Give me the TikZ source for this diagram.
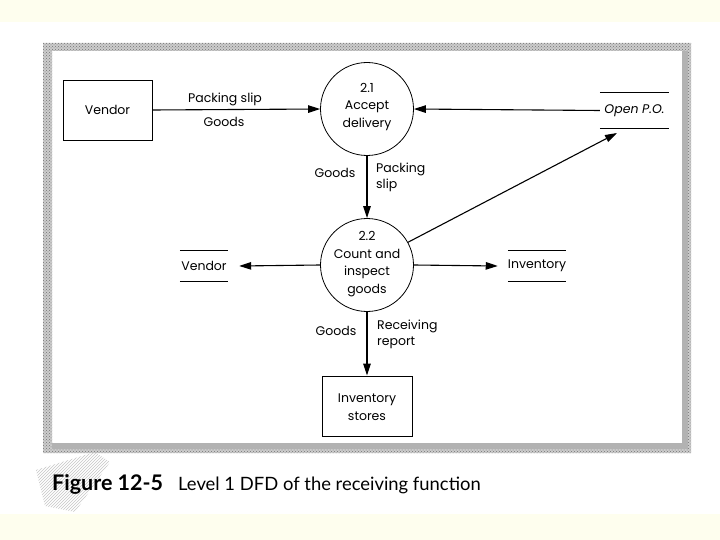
\documentclass[tikz,border=0pt]{standalone}
\usepackage{fontspec}
\setmainfont{Poppins}
\newfontfamily\capfont{Lato}
\usetikzlibrary{arrows.meta,patterns}
\definecolor{cream}{RGB}{254,254,238}
\begin{document}
\begin{tikzpicture}[x=1pt,y=-1pt,
  lbl/.style={font=\fontsize{12.5}{17.5}\selectfont, inner sep=0pt, align=center},
  lbll/.style={font=\fontsize{12.5}{16}\selectfont, inner sep=0pt, align=left},
  flow/.style={line width=1.1pt, -{Triangle[length=12pt,width=7.5pt]}},
  entity/.style={draw, line width=0.9pt, minimum width=89pt, minimum height=60pt, inner sep=0pt},
  proc/.style={draw, line width=0.8pt, circle, minimum size=93pt, inner sep=0pt},
  storeline/.style={line width=0.9pt}]
\useasboundingbox (0,0) rectangle (720,540);
\fill[white] (0,0) rectangle (720,540);
\fill[cream] (0,0) rectangle (720,22);
\fill[cream] (0,514) rectangle (720,540);
% frame
\fill[gray!40, even odd rule] (43,43) rectangle (691,453) (52,51) rectangle (682,443);
\fill[pattern=crosshatch dots, pattern color=gray!90!black, even odd rule] (43,43) rectangle (691,453) (52,51) rectangle (682,443);
\fill[gray!60] (52,443) rectangle (682,449);
\fill[gray!60] (682,51) rectangle (688,449);
\fill[pattern=north east lines, pattern color=gray!45] (36,470) -- (95,452) -- (110,462) -- (75,512) -- (45,506) -- cycle;
% entities
\node[entity] (vendor) at (107.5,110) {};
\node[lbl] (vendort) at (107.5,110) {Vendor};
\node[proc] (p1) at (367,109) {};
\node[lbl] (p1t) at (367,107) {2.1\\Accept\\delivery};
\node[proc] (p2) at (367,265) {};
\node[lbl] (p2t) at (367,264) {2.2\\Count and\\inspect\\goods};
\node[entity, minimum width=90pt] (stores) at (367,406) {};
\node[lbl] (storest) at (367,407) {Inventory\\stores};
% data stores
\node[lbl, minimum width=69pt, minimum height=35pt] (opo) at (634.5,110.5) {\itshape Open P.O.};
\draw[storeline] (opo.north west) -- (opo.north east) (opo.south west) -- (opo.south east);
\node[lbl, minimum width=48pt, minimum height=30pt] (vstore) at (204,266) {Vendor};
\draw[storeline] (vstore.north west) -- (vstore.north east) (vstore.south west) -- (vstore.south east);
\node[lbl, minimum width=58pt, minimum height=30pt] (inv) at (537,266) {Inventory};
\draw[storeline] (inv.north west) -- (inv.north east) (inv.south west) -- (inv.south east);
% flows
\draw[flow] (vendor.east) -- (p1.west);
\node[lbl] (f1a) at (225,99) {Packing slip};
\node[lbl] (f1b) at (224,122) {Goods};
\draw[flow] (opo.west) -- (p1.east);
\draw[flow] (p1.south) -- (p2.north);
\node[lbl] (f3a) at (335,173) {Goods};
\node[lbll, anchor=west] (f3b) at (376,177) {Packing\\slip};
\coordinate (opoin) at (617,133);
\draw[flow] (p2.29) -- (opoin);
\draw[flow] (p2.west) -- ([xshift=11pt]vstore.east);
\draw[flow] (p2.east) -- ([xshift=-10pt]inv.west);
\draw[flow] (p2.south) -- (stores.north);
\node[lbl] (f5a) at (336,331) {Goods};
\node[lbll, anchor=west] (f5b) at (377,334) {Receiving\\report};
% caption
\node[anchor=base west, inner sep=0pt, font=\capfont\bfseries\fontsize{21.5}{24}\selectfont] (figno) at (52,490) {Figure 12-5};
\node[anchor=base west, inner sep=0pt, font=\capfont\fontsize{18.4}{22}\selectfont] (figcap) at (178,490) {Level 1 DFD of the receiving function};
\end{tikzpicture}
\end{document}
